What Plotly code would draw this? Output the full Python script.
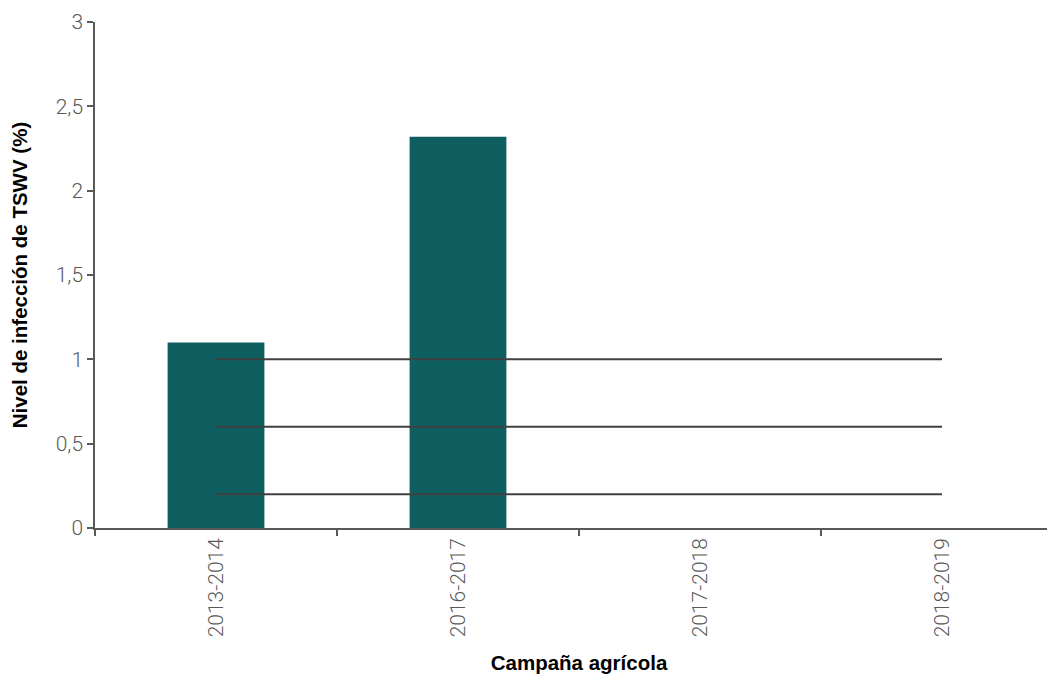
import plotly.graph_objects as go

categories = ["2013-2014", "2016-2017", "2017-2018", "2018-2019"]
infection = [1.1, 2.32, 0, 0]
thresholds = [1.0, 0.6, 0.2]

fig = go.Figure()
fig.add_trace(go.Bar(x=categories, y=infection, marker=dict(color="#0f5e60", line=dict(width=0)),
                     width=0.4, showlegend=False))
for t in thresholds:
    fig.add_trace(go.Scatter(x=[categories[0], categories[-1]], y=[t, t], mode="lines",
                             line=dict(color="#404040", width=2), showlegend=False))

tickfont = dict(family="Roboto", weight=300, size=21, color="#595959")
titlefont = dict(family="Liberation Sans, Arial", size=20.5, color="black")

fig.update_layout(
    width=1055, height=674,
    margin=dict(l=87, r=0, t=14, b=154),
    plot_bgcolor="white", paper_bgcolor="white",
    separators=",.",
    font=dict(family="Roboto", color="#595959", size=16),
    xaxis=dict(
        range=[-0.5, 3.5],
        showline=True, linecolor="#595959", linewidth=1.5,
        ticks="outside", tickson="boundaries", ticklen=6, tickcolor="#595959", tickwidth=1.5,
        tickangle=-90, tickfont=tickfont, automargin=False,
        title=dict(text="<b>Campaña agrícola</b>", font=titlefont, standoff=19),
        showgrid=False, zeroline=False,
    ),
    yaxis=dict(
        range=[0, 3], dtick=0.5,
        showline=True, linecolor="#595959", linewidth=1.5,
        ticks="outside", ticklen=6, tickcolor="#595959", tickwidth=1.5,
        tickfont=tickfont, automargin=False,
        title=dict(text="<b>Nivel de infección de TSWV (%)</b>", font=titlefont, standoff=26),
        showgrid=False, zeroline=False,
    ),
)
fig.write_html("out.html")
